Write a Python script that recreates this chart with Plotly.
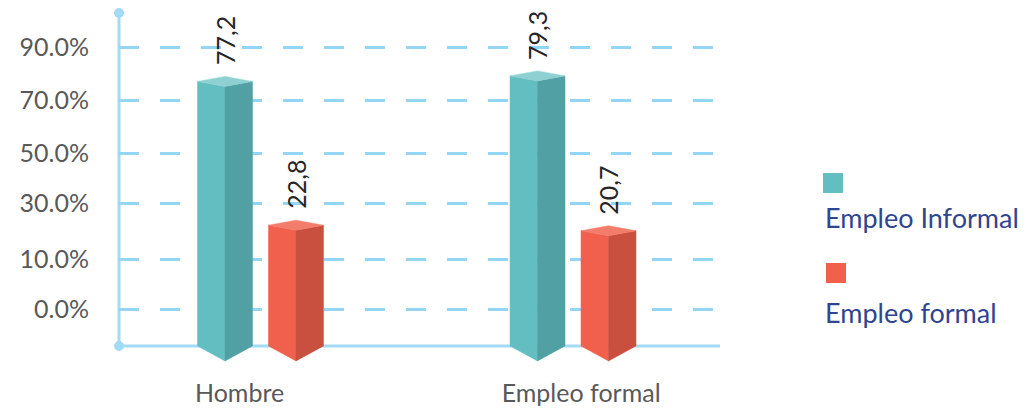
import plotly.graph_objects as go

# ---------------- data ----------------
categories = ["Hombre", "Empleo formal"]
series_names = ["Empleo Informal", "Empleo formal"]
informal_values = [77.2, 79.3]
formal_values = [22.8, 20.7]
tick_positions = [-9, 10, 31, 50, 70, 90]
tick_labels = ["0.0%", "10.0%", "30.0%", "50.0%", "70.0%", "90.0%"]

# ---------------- style ----------------
W, H = 1029, 409
ML, MR, MT, MB = 119, 309, 13, 39
X_RANGE = [-0.4528, 1.4704]
Y_RANGE = [-32.0, 103.1]
BASE = -22.9          # value at which the floor line sits
PX_PER_UNIT = 2.641   # vertical pixels per value unit
BAR_OFFSET = 0.1136
HALF_W = 0.088
DT = 5.0 / PX_PER_UNIT   # top rhombus depth
DB = 15.0 / PX_PER_UNIT  # bottom V depth

series_colors = [
    {"front": "#63BEC2", "side": "#50A0A4", "top": "#8FD0D2"},
    {"front": "#F0604D", "side": "#C9503F", "top": "#F37C6B"},
]
grid_color = "#92D5F5"
axis_color = "#A3DBF6"
label_offsets = [-0.067, 0.026]
FONT = "Lato"

fig = go.Figure()

all_series = [informal_values, formal_values]
for si, vals in enumerate(all_series):
    col = series_colors[si]
    off = -BAR_OFFSET if si == 0 else BAR_OFFSET
    for ci, v in enumerate(vals):
        c = ci + off
        faces = [
            ([c - HALF_W, c, c, c - HALF_W, c - HALF_W],
             [v, v - DT, BASE - DB, BASE, v], col["front"]),
            ([c, c + HALF_W, c + HALF_W, c, c],
             [v - DT, v, BASE, BASE - DB, v - DT], col["side"]),
            ([c - HALF_W, c, c + HALF_W, c, c - HALF_W],
             [v, v + DT, v, v - DT, v], col["top"]),
        ]
        for fx, fy, fc in faces:
            fig.add_trace(go.Scatter(
                x=fx, y=fy, mode="lines", fill="toself", fillcolor=fc,
                line=dict(color=fc, width=0.5), hoverinfo="skip",
                showlegend=False))
        fig.add_annotation(
            x=c, y=v + DT, xref="x", yref="y",
            text=f"{v:.1f}".replace(".", ","), showarrow=False,
            textangle=-90, xanchor="center", yanchor="bottom", yshift=9,
            font=dict(family=FONT, size=25, color="#262626"))

# axis lines and end dots
shapes = [
    dict(type="line", xref="paper", yref="y", x0=0, x1=1, y0=BASE, y1=BASE,
         line=dict(color=axis_color, width=3), layer="below"),
    dict(type="line", xref="paper", yref="paper", x0=0, x1=0,
         y0=(BASE - Y_RANGE[0]) / (Y_RANGE[1] - Y_RANGE[0]), y1=1,
         line=dict(color=axis_color, width=3), layer="below"),
    dict(type="circle", xref="paper", yref="paper", xsizemode="pixel",
         ysizemode="pixel", xanchor=0, yanchor=1, x0=-5, x1=5, y0=-5, y1=5,
         fillcolor=axis_color, line=dict(width=0)),
    dict(type="circle", xref="paper", yref="y", xsizemode="pixel",
         ysizemode="pixel", xanchor=0, yanchor=BASE, x0=-5, x1=5, y0=-5, y1=5,
         fillcolor=axis_color, line=dict(width=0)),
]

# legend (squares above names)
plot_w = W - ML - MR
plot_h = H - MT - MB
def px_x(p):
    return (p - ML) / plot_w
def px_y(p):
    return (H - MB - p) / plot_h

legend_items = [(823, 173, 217), (826, 263, 312)]
for si, (lx, ly, ty) in enumerate(legend_items):
    shapes.append(dict(type="rect", xref="paper", yref="paper",
                       x0=px_x(lx), x1=px_x(lx + 20), y0=px_y(ly + 20), y1=px_y(ly),
                       fillcolor=series_colors[si]["front"], line=dict(width=0)))
    fig.add_annotation(x=px_x(823), y=px_y(ty), xref="paper", yref="paper",
                       text=series_names[si], showarrow=False,
                       xanchor="left", yanchor="middle",
                       font=dict(family=FONT, size=27, color="#2F4590"))

fig.update_layout(
    width=W, height=H,
    margin=dict(l=ML, r=MR, t=MT, b=MB, pad=0),
    paper_bgcolor="white", plot_bgcolor="white",
    showlegend=False,
    shapes=shapes,
    xaxis=dict(range=X_RANGE, showgrid=False, zeroline=False, showline=False,
               automargin=False,
               tickvals=[i + o for i, o in enumerate(label_offsets)],
               ticktext=categories, ticks="", ticklabelstandoff=6,
               tickfont=dict(family=FONT, size=25, color="#595959")),
    yaxis=dict(range=Y_RANGE, showgrid=True, gridcolor=grid_color, gridwidth=3,
               automargin=False,
               griddash="20px,21px", zeroline=False, showline=False,
               tickvals=tick_positions, ticktext=tick_labels, ticks="",
               ticklabelstandoff=29,
               tickfont=dict(family=FONT, size=25, color="#595959")),
)

fig.write_html("out.html")
